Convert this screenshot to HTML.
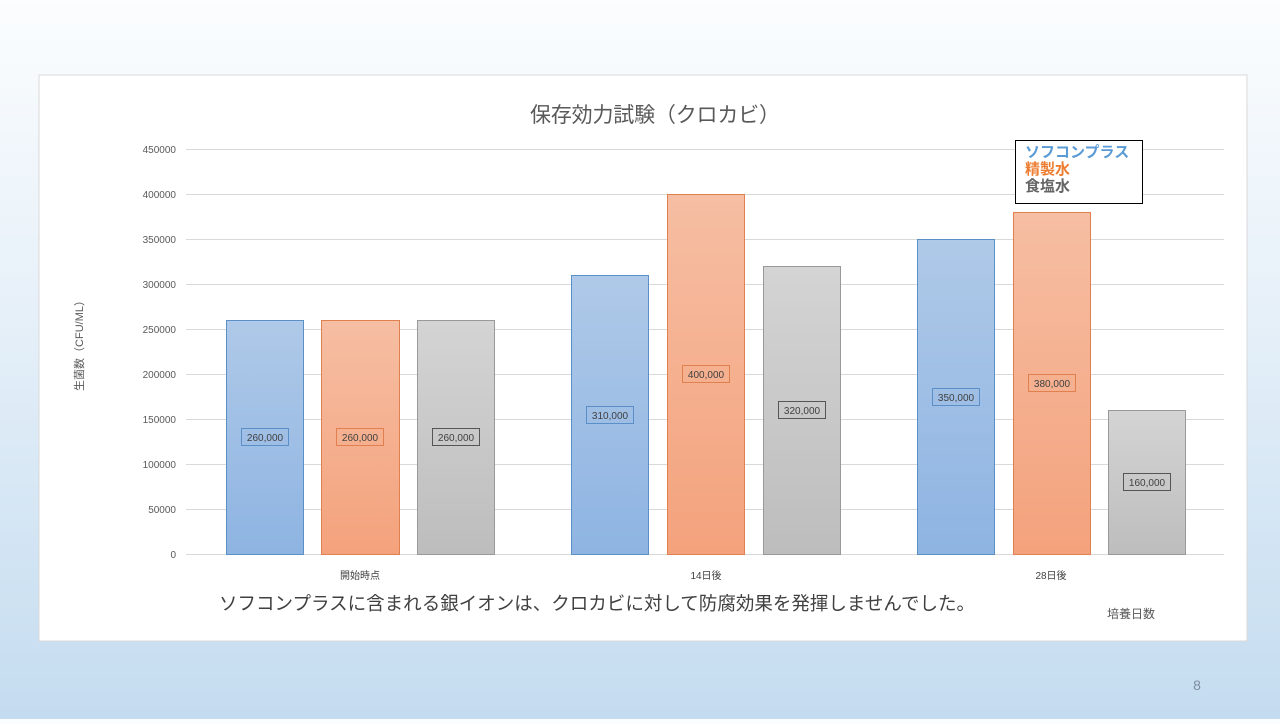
<!DOCTYPE html>
<html><head><meta charset="utf-8"><style>
body{margin:0;width:1280px;height:719px;overflow:hidden;background:linear-gradient(#fbfdfe 0%,#e8f1f9 40%,#c4dcf0 100%);font-family:"Liberation Sans","Noto Sans CJK JP",sans-serif}
</style></head><body>
<svg width="1280" height="719" xmlns="http://www.w3.org/2000/svg" font-family="Liberation Sans, Noto Sans CJK JP, sans-serif">
<defs>
<linearGradient id="b" x1="0" y1="0" x2="0" y2="1"><stop offset="0" stop-color="#afc9e8"/><stop offset="1" stop-color="#8eb4e2"/></linearGradient>
<linearGradient id="o" x1="0" y1="0" x2="0" y2="1"><stop offset="0" stop-color="#f6bea3"/><stop offset="1" stop-color="#f4a27c"/></linearGradient>
<linearGradient id="g" x1="0" y1="0" x2="0" y2="1"><stop offset="0" stop-color="#d4d4d4"/><stop offset="1" stop-color="#bdbdbd"/></linearGradient>
</defs>
<rect x="39" y="75" width="1208" height="566" fill="#fff" stroke="#d9d9d9"/>
<text x="655" y="122" font-size="21" fill="#595959" text-anchor="middle" textLength="250">保存効力試験（クロカビ）</text>
<g stroke="#d9d9d9" stroke-width="1">
<line x1="186" x2="1224" y1="149.5" y2="149.5"/><line x1="186" x2="1224" y1="194.5" y2="194.5"/><line x1="186" x2="1224" y1="239.5" y2="239.5"/><line x1="186" x2="1224" y1="284.5" y2="284.5"/><line x1="186" x2="1224" y1="329.5" y2="329.5"/><line x1="186" x2="1224" y1="374.5" y2="374.5"/><line x1="186" x2="1224" y1="419.5" y2="419.5"/><line x1="186" x2="1224" y1="464.5" y2="464.5"/><line x1="186" x2="1224" y1="509.5" y2="509.5"/><line x1="186" x2="1224" y1="554.5" y2="554.5"/>
</g>
<g font-size="10" fill="#595959" text-anchor="end">
<text x="176" y="153">450000</text><text x="176" y="198">400000</text><text x="176" y="243">350000</text><text x="176" y="288">300000</text><text x="176" y="333">250000</text><text x="176" y="378">200000</text><text x="176" y="423">150000</text><text x="176" y="468">100000</text><text x="176" y="513">50000</text><text x="176" y="558">0</text>
</g>
<text transform="translate(83,343) rotate(-90)" font-size="11" fill="#595959" text-anchor="middle">生菌数（CFU/ML）</text>
<g stroke-width="1">
<rect x="226.5" y="320.5" width="77" height="234" fill="url(#b)" stroke="#5b8fc7"/>
<rect x="321.5" y="320.5" width="78" height="234" fill="url(#o)" stroke="#e0804e"/>
<rect x="417.5" y="320.5" width="77" height="234" fill="url(#g)" stroke="#999"/>
<rect x="571.5" y="275.5" width="77" height="279" fill="url(#b)" stroke="#5b8fc7"/>
<rect x="667.5" y="194.5" width="77" height="360" fill="url(#o)" stroke="#e0804e"/>
<rect x="763.5" y="266.5" width="77" height="288" fill="url(#g)" stroke="#999"/>
<rect x="917.5" y="239.5" width="77" height="315" fill="url(#b)" stroke="#5b8fc7"/>
<rect x="1013.5" y="212.5" width="77" height="342" fill="url(#o)" stroke="#e0804e"/>
<rect x="1108.5" y="410.5" width="77" height="144" fill="url(#g)" stroke="#999"/>
</g>
<g font-size="10" fill="#404040" text-anchor="middle">
<rect x="241.5" y="428.5" width="47" height="17" fill="none" stroke="#5b8fc7"/><text x="265" y="441">260,000</text>
<rect x="336.5" y="428.5" width="47" height="17" fill="none" stroke="#e0804e"/><text x="360" y="441">260,000</text>
<rect x="432.5" y="428.5" width="47" height="17" fill="none" stroke="#555"/><text x="456" y="441">260,000</text>
<rect x="586.5" y="406.5" width="47" height="17" fill="none" stroke="#5b8fc7"/><text x="610" y="419">310,000</text>
<rect x="682.5" y="365.5" width="47" height="17" fill="none" stroke="#e0804e"/><text x="706" y="378">400,000</text>
<rect x="778.5" y="401.5" width="47" height="17" fill="none" stroke="#555"/><text x="802" y="414">320,000</text>
<rect x="932.5" y="388.5" width="47" height="17" fill="none" stroke="#5b8fc7"/><text x="956" y="401">350,000</text>
<rect x="1028.5" y="374.5" width="47" height="17" fill="none" stroke="#e0804e"/><text x="1052" y="387">380,000</text>
<rect x="1123.5" y="473.5" width="47" height="17" fill="none" stroke="#555"/><text x="1147" y="486">160,000</text>
</g>
<g font-size="10" fill="#404040" text-anchor="middle">
<text x="360" y="579">開始時点</text><text x="706" y="579">14日後</text><text x="1051" y="579">28日後</text>
</g>
<text x="219" y="610" font-size="18.5" fill="#404040" textLength="756" lengthAdjust="spacingAndGlyphs">ソフコンプラスに含まれる銀イオンは、クロカビに対して防腐効果を発揮しませんでした。</text>
<text x="1131" y="618" font-size="12" fill="#595959" text-anchor="middle">培養日数</text>
<rect x="1015.5" y="140.5" width="127" height="63" fill="#fff" stroke="#000"/>
<g font-size="15" font-weight="bold">
<text x="1025" y="157" fill="#5b9bd5">ソフコンプラス</text>
<text x="1025" y="174" fill="#ed7d31">精製水</text>
<text x="1025" y="191" fill="#666">食塩水</text>
</g>
<text x="1197" y="690" font-size="14" fill="#7f8fa0" text-anchor="middle">8</text>
</svg>
</body></html>
